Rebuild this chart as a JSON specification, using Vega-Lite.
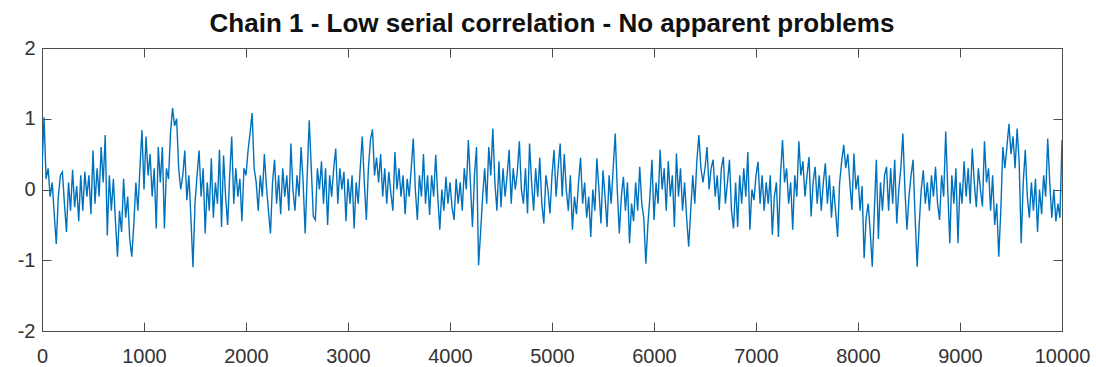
{
  "$schema": "https://vega.github.io/schema/vega-lite/v6.json",
  "width": 1020,
  "height": 283,
  "autosize": {"type": "none"},
  "padding": {"left": 42, "top": 48, "right": 34, "bottom": 36},
  "background": "white",
  "title": {
    "text": "Chain 1 - Low serial correlation - No apparent problems",
    "font": "Liberation Sans",
    "fontSize": 26,
    "fontWeight": "bold",
    "color": "#111111",
    "anchor": "middle",
    "baseline": "alphabetic",
    "offset": 13,
    "dy": 33
  },
  "data": {"values": [
{"i":0,"v":0.3},{"i":20,"v":1.02},{"i":40,"v":0.15},{"i":60,"v":0.3},{"i":80,"v":-0.1},
{"i":100,"v":0.1},{"i":120,"v":-0.35},{"i":140,"v":-0.77},{"i":160,"v":-0.1},{"i":180,"v":0.2},
{"i":200,"v":0.25},{"i":220,"v":-0.2},{"i":240,"v":-0.6},{"i":260,"v":0.1},{"i":280,"v":-0.3},
{"i":300,"v":0.28},{"i":320,"v":-0.25},{"i":340,"v":0.05},{"i":360,"v":-0.45},{"i":380,"v":0.2},
{"i":400,"v":-0.3},{"i":420,"v":0.25},{"i":440,"v":-0.1},{"i":460,"v":0.2},{"i":480,"v":-0.35},
{"i":500,"v":0.55},{"i":520,"v":-0.2},{"i":540,"v":0.3},{"i":560,"v":-0.1},{"i":580,"v":0.6},
{"i":600,"v":0.1},{"i":620,"v":0.77},{"i":640,"v":-0.65},{"i":660,"v":0.2},{"i":680,"v":-0.3},
{"i":700,"v":0.15},{"i":720,"v":-0.45},{"i":740,"v":-0.95},{"i":760,"v":-0.3},{"i":780,"v":-0.6},
{"i":800,"v":0.15},{"i":820,"v":-0.4},{"i":840,"v":-0.1},{"i":860,"v":-0.7},{"i":880,"v":-0.95},
{"i":900,"v":-0.5},{"i":920,"v":0.1},{"i":940,"v":-0.3},{"i":960,"v":0.3},{"i":980,"v":0.84},
{"i":1000,"v":0.0},{"i":1020,"v":0.75},{"i":1040,"v":0.2},{"i":1060,"v":0.5},{"i":1080,"v":-0.1},
{"i":1100,"v":0.3},{"i":1120,"v":-0.55},{"i":1140,"v":0.6},{"i":1160,"v":0.1},{"i":1180,"v":0.6},
{"i":1200,"v":-0.55},{"i":1220,"v":0.3},{"i":1240,"v":0.15},{"i":1260,"v":0.8},{"i":1280,"v":1.15},
{"i":1300,"v":0.9},{"i":1320,"v":1.0},{"i":1340,"v":0.3},{"i":1360,"v":0.0},{"i":1380,"v":0.2},
{"i":1400,"v":0.55},{"i":1420,"v":-0.15},{"i":1440,"v":0.2},{"i":1460,"v":-0.4},{"i":1480,"v":-1.1},
{"i":1500,"v":-0.2},{"i":1520,"v":0.2},{"i":1540,"v":0.55},{"i":1560,"v":-0.1},{"i":1580,"v":0.3},
{"i":1600,"v":-0.62},{"i":1620,"v":0.1},{"i":1640,"v":-0.3},{"i":1660,"v":0.44},{"i":1680,"v":-0.4},
{"i":1700,"v":0.1},{"i":1720,"v":-0.2},{"i":1740,"v":0.56},{"i":1760,"v":-0.53},{"i":1780,"v":0.48},
{"i":1800,"v":-0.1},{"i":1820,"v":-0.5},{"i":1840,"v":0.2},{"i":1860,"v":0.75},{"i":1880,"v":-0.2},
{"i":1900,"v":0.3},{"i":1920,"v":-0.1},{"i":1940,"v":0.15},{"i":1960,"v":-0.45},{"i":1980,"v":0.3},
{"i":2000,"v":0.2},{"i":2020,"v":0.55},{"i":2040,"v":0.8},{"i":2060,"v":1.08},{"i":2080,"v":0.3},
{"i":2100,"v":0.1},{"i":2120,"v":-0.3},{"i":2140,"v":0.2},{"i":2160,"v":-0.1},{"i":2180,"v":0.5},
{"i":2200,"v":0.05},{"i":2220,"v":-0.3},{"i":2240,"v":-0.62},{"i":2260,"v":0.1},{"i":2280,"v":0.42},
{"i":2300,"v":-0.2},{"i":2320,"v":0.2},{"i":2340,"v":-0.35},{"i":2360,"v":0.3},{"i":2380,"v":-0.1},
{"i":2400,"v":0.2},{"i":2420,"v":-0.3},{"i":2440,"v":0.65},{"i":2460,"v":0.0},{"i":2480,"v":-0.3},
{"i":2500,"v":0.2},{"i":2520,"v":-0.1},{"i":2540,"v":0.6},{"i":2560,"v":0.1},{"i":2580,"v":-0.62},
{"i":2600,"v":0.2},{"i":2620,"v":0.98},{"i":2640,"v":0.3},{"i":2660,"v":-0.38},{"i":2680,"v":-0.43},
{"i":2700,"v":0.3},{"i":2720,"v":0.0},{"i":2740,"v":0.4},{"i":2760,"v":-0.2},{"i":2780,"v":0.3},
{"i":2800,"v":-0.5},{"i":2820,"v":0.2},{"i":2840,"v":-0.1},{"i":2860,"v":0.3},{"i":2880,"v":0.58},
{"i":2900,"v":-0.2},{"i":2920,"v":0.3},{"i":2940,"v":0.0},{"i":2960,"v":0.25},{"i":2980,"v":-0.45},
{"i":3000,"v":0.15},{"i":3020,"v":-0.2},{"i":3040,"v":0.2},{"i":3060,"v":-0.55},{"i":3080,"v":0.1},
{"i":3100,"v":-0.2},{"i":3120,"v":0.3},{"i":3140,"v":0.75},{"i":3160,"v":0.1},{"i":3180,"v":-0.43},
{"i":3200,"v":0.3},{"i":3220,"v":0.7},{"i":3240,"v":0.85},{"i":3260,"v":0.2},{"i":3280,"v":0.45},
{"i":3300,"v":0.1},{"i":3320,"v":0.5},{"i":3340,"v":-0.1},{"i":3360,"v":0.3},{"i":3380,"v":-0.2},
{"i":3400,"v":0.25},{"i":3420,"v":-0.05},{"i":3440,"v":-0.3},{"i":3460,"v":0.53},{"i":3480,"v":0.0},
{"i":3500,"v":0.3},{"i":3520,"v":-0.1},{"i":3540,"v":0.2},{"i":3560,"v":-0.35},{"i":3580,"v":0.15},
{"i":3600,"v":-0.1},{"i":3620,"v":0.3},{"i":3640,"v":0.72},{"i":3660,"v":0.0},{"i":3680,"v":-0.43},
{"i":3700,"v":0.2},{"i":3720,"v":-0.1},{"i":3740,"v":0.5},{"i":3760,"v":-0.2},{"i":3780,"v":0.2},
{"i":3800,"v":-0.36},{"i":3820,"v":0.2},{"i":3840,"v":-0.1},{"i":3860,"v":0.49},{"i":3880,"v":-0.1},
{"i":3900,"v":-0.57},{"i":3920,"v":0.0},{"i":3940,"v":-0.3},{"i":3960,"v":0.18},{"i":3980,"v":-0.2},
{"i":4000,"v":0.1},{"i":4020,"v":-0.25},{"i":4040,"v":-0.43},{"i":4060,"v":0.15},{"i":4080,"v":-0.2},
{"i":4100,"v":0.1},{"i":4120,"v":-0.3},{"i":4140,"v":0.3},{"i":4160,"v":0.0},{"i":4180,"v":0.7},
{"i":4200,"v":0.1},{"i":4220,"v":-0.53},{"i":4240,"v":0.2},{"i":4260,"v":0.6},{"i":4280,"v":-1.07},
{"i":4300,"v":-0.6},{"i":4320,"v":-0.1},{"i":4340,"v":0.3},{"i":4360,"v":-0.2},{"i":4380,"v":0.6},
{"i":4400,"v":0.2},{"i":4420,"v":0.86},{"i":4440,"v":0.1},{"i":4460,"v":-0.3},{"i":4480,"v":0.4},
{"i":4500,"v":-0.25},{"i":4520,"v":0.3},{"i":4540,"v":-0.1},{"i":4560,"v":0.2},{"i":4580,"v":0.56},
{"i":4600,"v":-0.2},{"i":4620,"v":0.3},{"i":4640,"v":0.0},{"i":4660,"v":0.25},{"i":4680,"v":0.68},
{"i":4700,"v":0.0},{"i":4720,"v":-0.2},{"i":4740,"v":0.3},{"i":4760,"v":-0.34},{"i":4780,"v":0.65},
{"i":4800,"v":0.1},{"i":4820,"v":-0.3},{"i":4840,"v":0.3},{"i":4860,"v":-0.1},{"i":4880,"v":0.45},
{"i":4900,"v":-0.2},{"i":4920,"v":-0.48},{"i":4940,"v":0.2},{"i":4960,"v":0.0},{"i":4980,"v":-0.34},
{"i":5000,"v":0.2},{"i":5020,"v":0.56},{"i":5040,"v":-0.1},{"i":5060,"v":0.3},{"i":5080,"v":0.65},
{"i":5100,"v":-0.1},{"i":5120,"v":0.5},{"i":5140,"v":0.0},{"i":5160,"v":-0.3},{"i":5180,"v":0.2},
{"i":5200,"v":-0.57},{"i":5220,"v":-0.1},{"i":5240,"v":-0.35},{"i":5260,"v":0.1},{"i":5280,"v":0.45},
{"i":5300,"v":-0.2},{"i":5320,"v":0.1},{"i":5340,"v":-0.4},{"i":5360,"v":-0.1},{"i":5380,"v":-0.67},
{"i":5400,"v":0.0},{"i":5420,"v":-0.3},{"i":5440,"v":0.44},{"i":5460,"v":0.0},{"i":5480,"v":-0.48},
{"i":5500,"v":0.27},{"i":5520,"v":-0.1},{"i":5540,"v":-0.53},{"i":5560,"v":0.2},{"i":5580,"v":-0.2},
{"i":5600,"v":0.3},{"i":5620,"v":0.79},{"i":5640,"v":0.0},{"i":5660,"v":-0.62},{"i":5680,"v":-0.1},
{"i":5700,"v":0.18},{"i":5720,"v":-0.3},{"i":5740,"v":0.1},{"i":5760,"v":-0.76},{"i":5780,"v":-0.2},
{"i":5800,"v":-0.45},{"i":5820,"v":0.1},{"i":5840,"v":-0.3},{"i":5860,"v":0.32},{"i":5880,"v":-0.2},
{"i":5900,"v":-0.4},{"i":5920,"v":-1.05},{"i":5940,"v":-0.5},{"i":5960,"v":-0.1},{"i":5980,"v":0.42},
{"i":6000,"v":-0.43},{"i":6020,"v":0.1},{"i":6040,"v":-0.2},{"i":6060,"v":0.56},{"i":6080,"v":0.0},
{"i":6100,"v":0.3},{"i":6120,"v":-0.3},{"i":6140,"v":0.4},{"i":6160,"v":-0.1},{"i":6180,"v":0.2},
{"i":6200,"v":-0.53},{"i":6220,"v":0.51},{"i":6240,"v":-0.1},{"i":6260,"v":0.3},{"i":6280,"v":-0.3},
{"i":6300,"v":0.1},{"i":6320,"v":-0.4},{"i":6340,"v":-0.81},{"i":6360,"v":-0.3},{"i":6380,"v":0.2},
{"i":6400,"v":-0.2},{"i":6420,"v":0.4},{"i":6440,"v":0.77},{"i":6460,"v":0.3},{"i":6480,"v":0.1},
{"i":6500,"v":0.3},{"i":6520,"v":0.6},{"i":6540,"v":0.0},{"i":6560,"v":0.3},{"i":6580,"v":0.42},
{"i":6600,"v":-0.1},{"i":6620,"v":0.2},{"i":6640,"v":-0.29},{"i":6660,"v":0.3},{"i":6680,"v":0.46},
{"i":6700,"v":-0.2},{"i":6720,"v":0.1},{"i":6740,"v":0.42},{"i":6760,"v":-0.3},{"i":6780,"v":-0.55},
{"i":6800,"v":0.1},{"i":6820,"v":-0.53},{"i":6840,"v":0.2},{"i":6860,"v":-0.2},{"i":6880,"v":0.3},
{"i":6900,"v":-0.1},{"i":6920,"v":0.53},{"i":6940,"v":-0.57},{"i":6960,"v":0.0},{"i":6980,"v":-0.15},
{"i":7000,"v":0.2},{"i":7020,"v":0.39},{"i":7040,"v":-0.2},{"i":7060,"v":0.2},{"i":7080,"v":-0.3},
{"i":7100,"v":0.1},{"i":7120,"v":-0.2},{"i":7140,"v":0.2},{"i":7160,"v":-0.64},{"i":7180,"v":-0.1},
{"i":7200,"v":0.1},{"i":7220,"v":-0.67},{"i":7240,"v":0.2},{"i":7260,"v":0.7},{"i":7280,"v":0.1},
{"i":7300,"v":0.3},{"i":7320,"v":-0.2},{"i":7340,"v":0.1},{"i":7360,"v":-0.57},{"i":7380,"v":0.2},
{"i":7400,"v":-0.1},{"i":7420,"v":0.68},{"i":7440,"v":0.2},{"i":7460,"v":0.4},{"i":7480,"v":-0.1},
{"i":7500,"v":0.2},{"i":7520,"v":0.46},{"i":7540,"v":-0.38},{"i":7560,"v":0.1},{"i":7580,"v":0.32},
{"i":7600,"v":-0.2},{"i":7620,"v":0.2},{"i":7640,"v":-0.3},{"i":7660,"v":0.1},{"i":7680,"v":0.37},
{"i":7700,"v":-0.2},{"i":7720,"v":0.2},{"i":7740,"v":-0.4},{"i":7760,"v":0.05},{"i":7780,"v":-0.3},
{"i":7800,"v":-0.67},{"i":7820,"v":0.1},{"i":7840,"v":0.4},{"i":7860,"v":0.63},{"i":7880,"v":0.3},
{"i":7900,"v":0.5},{"i":7920,"v":0.1},{"i":7940,"v":-0.29},{"i":7960,"v":0.51},{"i":7980,"v":0.0},
{"i":8000,"v":0.2},{"i":8020,"v":-0.3},{"i":8040,"v":0.05},{"i":8060,"v":-0.97},{"i":8080,"v":-0.4},
{"i":8100,"v":-0.2},{"i":8120,"v":-0.6},{"i":8140,"v":-1.09},{"i":8160,"v":-0.3},{"i":8180,"v":0.42},
{"i":8200,"v":-0.7},{"i":8220,"v":0.1},{"i":8240,"v":-0.3},{"i":8260,"v":0.2},{"i":8280,"v":0.32},
{"i":8300,"v":-0.3},{"i":8320,"v":0.3},{"i":8340,"v":-0.2},{"i":8360,"v":0.42},{"i":8380,"v":-0.48},
{"i":8400,"v":0.0},{"i":8420,"v":0.3},{"i":8440,"v":0.79},{"i":8460,"v":0.0},{"i":8480,"v":-0.57},
{"i":8500,"v":-0.1},{"i":8520,"v":0.2},{"i":8540,"v":0.42},{"i":8560,"v":-0.4},{"i":8580,"v":-1.09},
{"i":8600,"v":-0.5},{"i":8620,"v":0.0},{"i":8640,"v":0.27},{"i":8660,"v":-0.2},{"i":8680,"v":0.1},
{"i":8700,"v":-0.3},{"i":8720,"v":0.2},{"i":8740,"v":-0.1},{"i":8760,"v":0.32},{"i":8780,"v":-0.2},
{"i":8800,"v":-0.43},{"i":8820,"v":0.2},{"i":8840,"v":-0.1},{"i":8860,"v":0.82},{"i":8880,"v":0.0},
{"i":8900,"v":-0.76},{"i":8920,"v":0.2},{"i":8940,"v":-0.2},{"i":8960,"v":0.3},{"i":8980,"v":-0.76},
{"i":9000,"v":0.1},{"i":9020,"v":-0.2},{"i":9040,"v":0.4},{"i":9060,"v":-0.1},{"i":9080,"v":0.3},
{"i":9100,"v":-0.2},{"i":9120,"v":0.58},{"i":9140,"v":0.1},{"i":9160,"v":-0.25},{"i":9180,"v":0.3},
{"i":9200,"v":0.0},{"i":9220,"v":-0.24},{"i":9240,"v":0.68},{"i":9260,"v":0.1},{"i":9280,"v":0.3},
{"i":9300,"v":-0.3},{"i":9320,"v":0.2},{"i":9340,"v":-0.5},{"i":9360,"v":-0.2},{"i":9380,"v":-0.95},
{"i":9400,"v":-0.3},{"i":9420,"v":0.6},{"i":9440,"v":0.3},{"i":9460,"v":0.6},{"i":9480,"v":0.93},
{"i":9500,"v":0.5},{"i":9520,"v":0.75},{"i":9540,"v":0.3},{"i":9560,"v":0.86},{"i":9580,"v":0.4},
{"i":9600,"v":-0.76},{"i":9620,"v":0.1},{"i":9640,"v":0.56},{"i":9660,"v":-0.1},{"i":9680,"v":-0.4},
{"i":9700,"v":0.1},{"i":9720,"v":-0.3},{"i":9740,"v":0.15},{"i":9760,"v":-0.6},{"i":9780,"v":0.0},
{"i":9800,"v":-0.35},{"i":9820,"v":0.2},{"i":9840,"v":-0.1},{"i":9860,"v":0.72},{"i":9880,"v":0.1},
{"i":9900,"v":-0.4},{"i":9920,"v":0.0},{"i":9940,"v":-0.45},{"i":9960,"v":-0.2},{"i":9980,"v":-0.4},{"i":10000,"v":0.7}
  ]},
  "layer": [
    {
      "mark": {"type": "line", "color": "#0072BD", "strokeWidth": 1.4, "clip": true},
      "encoding": {
        "x": {
          "field": "i", "type": "quantitative",
          "scale": {"domain": [0, 10000], "nice": false, "zero": false},
          "axis": {
            "orient": "bottom", "title": null, "grid": false,
            "values": [0, 1000, 2000, 3000, 4000, 5000, 6000, 7000, 8000, 9000, 10000],
            "format": "d", "tickSize": -9, "labelPadding": 24,
            "labelFlush": false, "labelOverlap": false, "labelBound": false
          }
        },
        "y": {
          "field": "v", "type": "quantitative",
          "scale": {"domain": [-2, 2], "nice": false, "zero": false},
          "axis": {
            "orient": "left", "title": null, "grid": false,
            "values": [-2, -1, 0, 1, 2],
            "tickSize": -9, "labelPadding": 16,
            "labelExpr": "replace(datum.label, '\u2212', '-')",
            "labelFlush": false, "labelOverlap": false, "labelBound": false
          }
        }
      }
    },
    {
      "mark": {"type": "line", "strokeOpacity": 0},
      "encoding": {
        "x": {
          "field": "i", "type": "quantitative",
          "axis": {
            "orient": "top", "title": null, "grid": false, "labels": false,
            "values": [0, 1000, 2000, 3000, 4000, 5000, 6000, 7000, 8000, 9000, 10000],
            "tickSize": -9
          }
        },
        "y": {
          "field": "v", "type": "quantitative",
          "axis": {
            "orient": "right", "title": null, "grid": false, "labels": false,
            "values": [-2, -1, 0, 1, 2],
            "tickSize": -9
          }
        }
      }
    }
  ],
  "resolve": {"axis": {"x": "independent", "y": "independent"}},
  "config": {
    "view": {"stroke": null},
    "axis": {
      "domainColor": "#4d4d4d",
      "domainWidth": 1,
      "tickColor": "#4d4d4d",
      "tickWidth": 1,
      "labelFont": "Liberation Sans",
      "labelFontSize": 20,
      "labelColor": "#333333"
    }
  }
}
